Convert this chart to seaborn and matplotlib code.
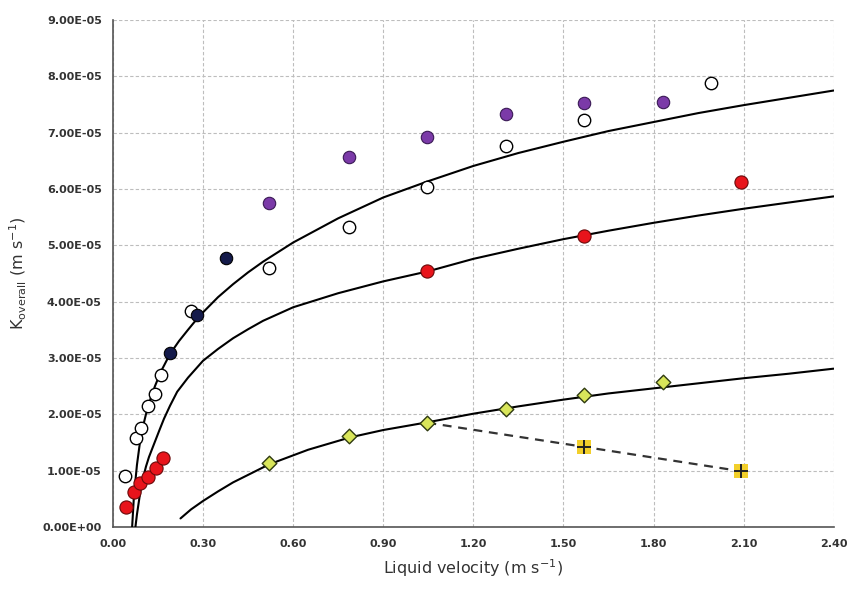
import numpy as np
import pandas as pd
import matplotlib
matplotlib.use("Agg")
import matplotlib.pyplot as plt
from matplotlib.ticker import FuncFormatter
import seaborn as sns

# ---- data (K values in units of 1e-5 m/s) ----
purple_x = [0.52, 0.785, 1.047, 1.31, 1.57, 1.83]
purple_y = [5.75, 6.57, 6.92, 7.34, 7.53, 7.55]

open_x = [0.04, 0.077, 0.095, 0.118, 0.141, 0.161, 0.259, 0.52, 0.785, 1.047, 1.31, 1.57, 1.99]
open_y = [0.91, 1.57, 1.75, 2.14, 2.36, 2.70, 3.83, 4.60, 5.33, 6.04, 6.77, 7.22, 7.88]

navy_x = [0.19, 0.28, 0.375]
navy_y = [3.08, 3.76, 4.78]

red_x = [0.045, 0.071, 0.091, 0.117, 0.143, 0.166, 1.047, 1.57, 2.09]
red_y = [0.36, 0.62, 0.78, 0.88, 1.04, 1.22, 4.54, 5.16, 6.12]

diamond_x = [0.52, 0.785, 1.047, 1.31, 1.57, 1.83]
diamond_y = [1.13, 1.62, 1.85, 2.10, 2.35, 2.57]

plus_x = [1.57, 2.09]
plus_y = [1.42, 0.99]
dash_x = [1.047, 1.57, 2.09]
dash_y = [1.85, 1.42, 0.99]

# fitted curves
top_x = [0.064, 0.07, 0.08, 0.09, 0.10, 0.11, 0.125, 0.14, 0.16, 0.19, 0.22, 0.25, 0.27,
         0.30, 0.35, 0.40, 0.45, 0.50, 0.60, 0.75, 0.90,
         1.05, 1.20, 1.35, 1.50, 1.65, 1.80, 1.95, 2.10, 2.25, 2.40]
top_y = [0.00, 0.55, 1.10, 1.50, 1.78, 2.00, 2.27, 2.50, 2.76, 3.07, 3.30, 3.50, 3.63,
         3.81, 4.08, 4.31, 4.52, 4.71, 5.05, 5.48, 5.85,
         6.14, 6.41, 6.64, 6.84, 7.03, 7.19, 7.35, 7.49, 7.62, 7.75]

mid_x = [0.075, 0.08, 0.09, 0.10, 0.11, 0.12, 0.136, 0.155, 0.17, 0.19, 0.214, 0.25,
         0.30, 0.35, 0.40, 0.45, 0.50, 0.60, 0.75, 0.90,
         1.05, 1.20, 1.35, 1.50, 1.65, 1.80, 1.95, 2.10, 2.25, 2.40]
mid_y = [0.00, 0.22, 0.58, 0.86, 1.07, 1.24, 1.46, 1.72, 1.92, 2.15, 2.40, 2.65,
         2.95, 3.16, 3.35, 3.51, 3.66, 3.90, 4.15, 4.36,
         4.54, 4.76, 4.94, 5.11, 5.26, 5.40, 5.53, 5.65, 5.76, 5.87]

bot_x = [0.225, 0.26, 0.30, 0.35, 0.40, 0.46, 0.52, 0.65, 0.79, 0.90, 1.05, 1.20, 1.35,
         1.50, 1.65, 1.80, 1.95, 2.10, 2.25, 2.40]
bot_y = [0.15, 0.31, 0.46, 0.63, 0.79, 0.95, 1.11, 1.37, 1.59, 1.72, 1.86, 2.01, 2.14,
         2.26, 2.37, 2.46, 2.55, 2.64, 2.72, 2.81]

x_ticks = [0.00, 0.30, 0.60, 0.90, 1.20, 1.50, 1.80, 2.10, 2.40]
y_ticks = [0, 1, 2, 3, 4, 5, 6, 7, 8, 9]

SC = 1e-5

sns.set_style("white")
fig = plt.figure(figsize=(8.49, 5.92), dpi=100)
ax = fig.add_axes([0.133, 0.110, 0.849, 0.856])

def df(x, y):
    return pd.DataFrame({"x": x, "y": np.array(y) * SC})

# curves
for cx, cy in [(top_x, top_y), (mid_x, mid_y), (bot_x, bot_y)]:
    sns.lineplot(data=df(cx, cy), x="x", y="y", ax=ax, color="black", lw=1.5,
                 sort=False, estimator=None, zorder=3)

# dashed line
sns.lineplot(data=df(dash_x, dash_y), x="x", y="y", ax=ax, color="#333333", lw=1.6,
             linestyle=(0, (4, 3)), sort=False, estimator=None, zorder=3)

ms = 80
sns.scatterplot(data=df(purple_x, purple_y), x="x", y="y", ax=ax, color="#7B3AA8",
                edgecolor="#3a1a55", linewidth=0.8, s=ms, zorder=5)
sns.scatterplot(data=df(open_x, open_y), x="x", y="y", ax=ax, color="white",
                edgecolor="black", linewidth=1.0, s=ms, zorder=5)
sns.scatterplot(data=df(navy_x, navy_y), x="x", y="y", ax=ax, color="#141a4a",
                edgecolor="black", linewidth=0.8, s=ms, zorder=5)
sns.scatterplot(data=df(red_x, red_y), x="x", y="y", ax=ax, color="#E8141B",
                edgecolor="#6a0a0a", linewidth=0.8, s=ms + 10, zorder=5)
sns.scatterplot(data=df(diamond_x, diamond_y), x="x", y="y", ax=ax, color="#D9E65A",
                edgecolor="#2f3a10", linewidth=1.0, marker="D", s=55, zorder=6)
sns.scatterplot(data=df(plus_x, plus_y), x="x", y="y", ax=ax, color="#F2CF2A",
                edgecolor="#F2CF2A", linewidth=0, marker="s", s=90, zorder=6)
sns.scatterplot(data=df(plus_x, plus_y), x="x", y="y", ax=ax, color="#222222",
                linewidth=1.4, marker="+", s=90, zorder=7)

ax.set_xlim(0, 2.40)
ax.set_ylim(0, 9 * SC)
ax.set_xticks(x_ticks)
ax.set_yticks([v * SC for v in y_ticks])
ax.xaxis.set_major_formatter(FuncFormatter(lambda v, p: f"{v:.2f}"))
ax.yaxis.set_major_formatter(FuncFormatter(lambda v, p: f"{v:.2E}"))

ax.grid(True, color="#bdbdbd", linestyle=(0, (3, 2)), linewidth=0.8)
ax.set_axisbelow(True)
for s in ["top", "right"]:
    ax.spines[s].set_visible(False)
for s in ["left", "bottom"]:
    ax.spines[s].set_color("#555555")
    ax.spines[s].set_linewidth(1.2)

ax.tick_params(axis="x", direction="inout", length=6, width=1, color="#555555",
               labelsize=8, labelcolor="#333333", pad=6)
ax.tick_params(axis="y", direction="out", length=4, width=1, color="#888888",
               labelsize=8, labelcolor="#333333", pad=4)
for lab in ax.get_xticklabels() + ax.get_yticklabels():
    lab.set_fontweight("bold")

ax.set_xlabel(r"Liquid velocity (m s$^{-1}$)", fontsize=11.5, color="#333333", labelpad=6)
ax.set_ylabel(r"K$_{\mathrm{overall}}$ (m s$^{-1}$)", fontsize=11.5, color="#333333", labelpad=10)

fig.savefig("out.png", dpi=100)
